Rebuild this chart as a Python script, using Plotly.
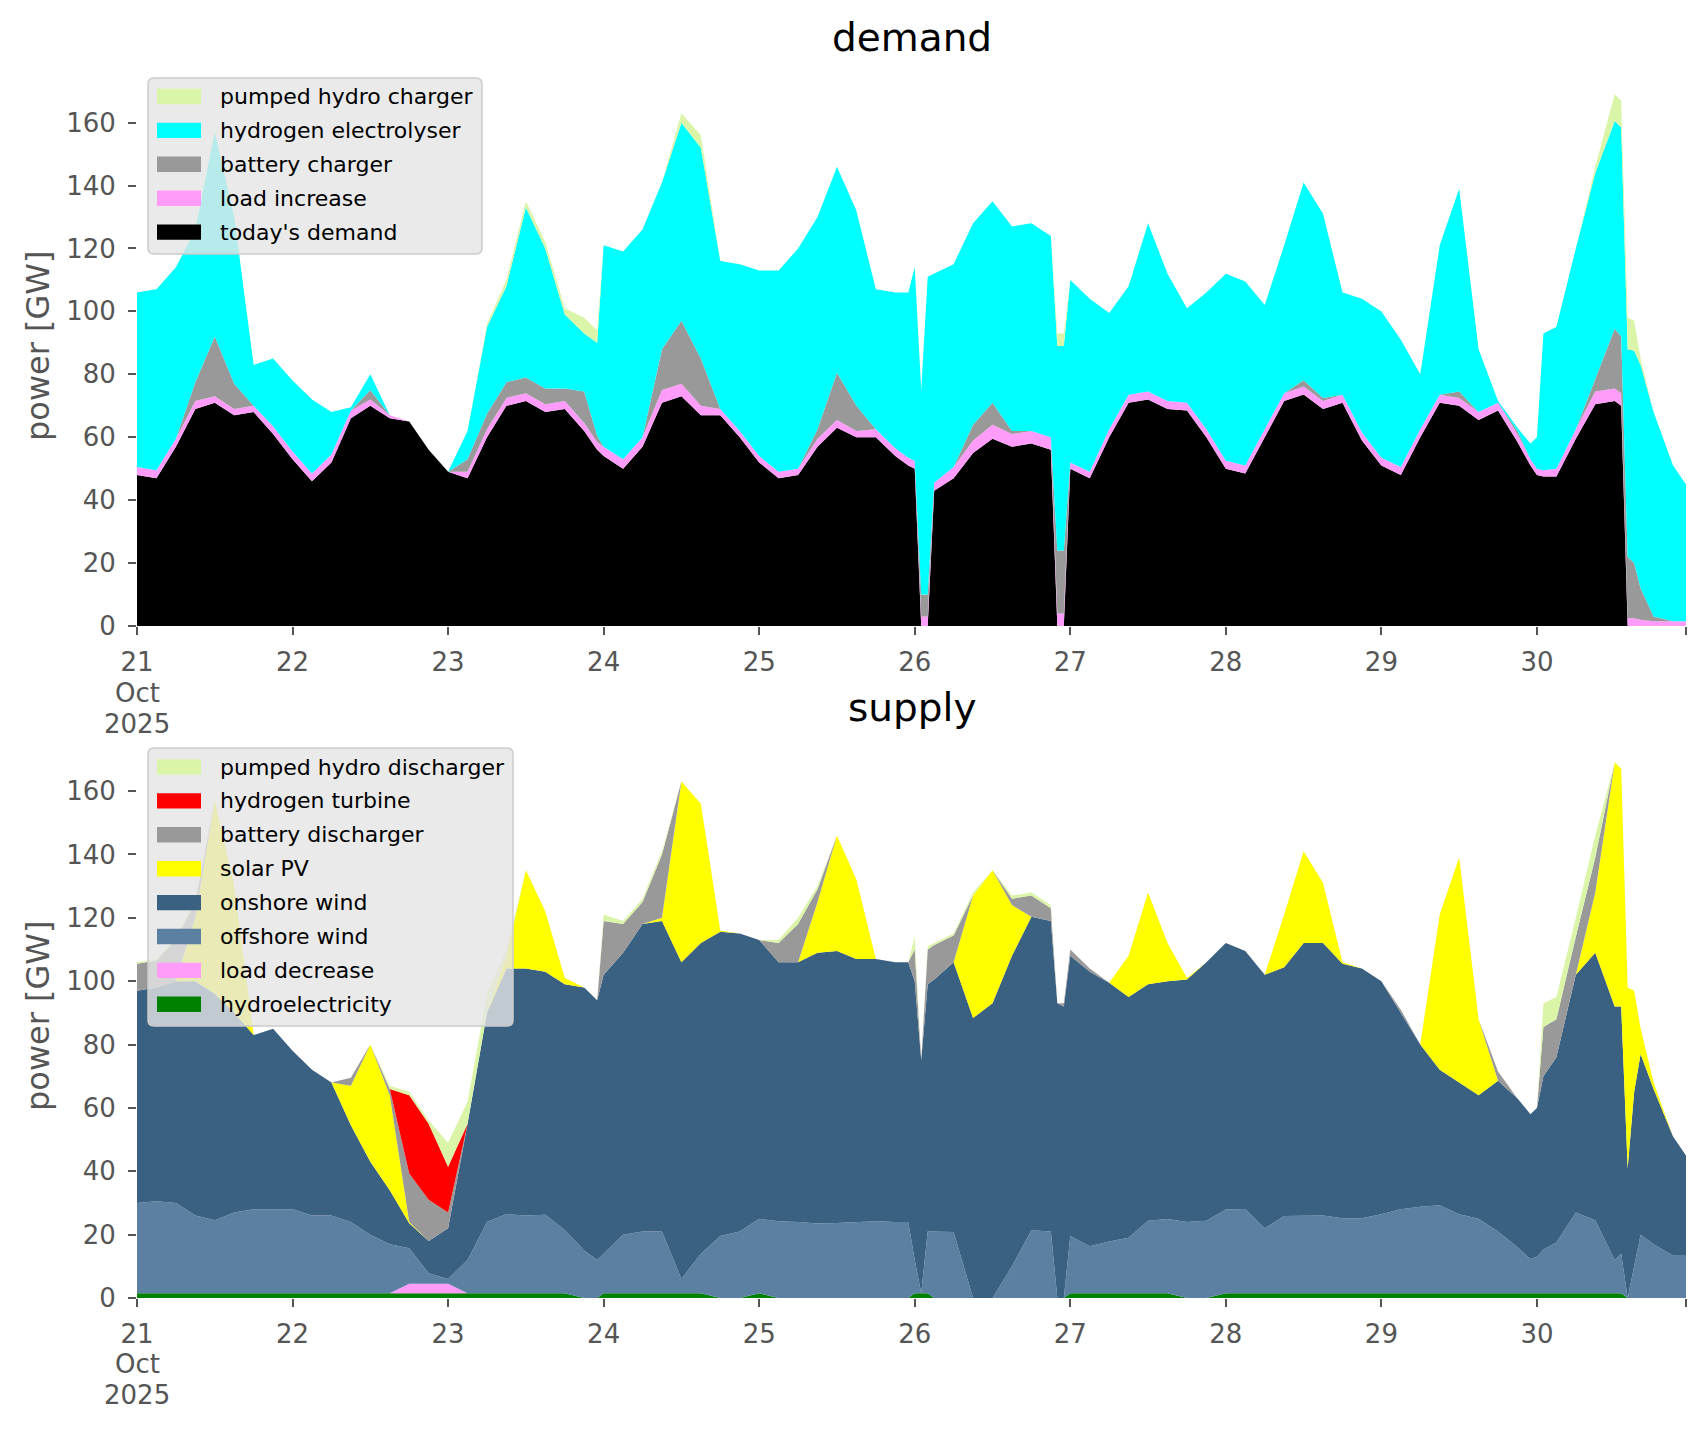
import pandas as pd
import plotly.graph_objects as go

# ---------------- time axis (hours after 21 Oct 2025 00:00) ----------------
HOURS = (
    [0, 3, 6, 9, 12, 15, 18, 21] +                              # 21 Oct
    [24, 27, 30, 33, 36, 39, 42, 45] +                          # 22 Oct
    [48, 51, 54, 57, 60, 63, 66, 69, 71] +                      # 23 Oct
    [72, 75, 78, 81, 84, 87, 90, 93] +                          # 24 Oct
    [96, 99, 102, 105, 108, 111, 114, 117, 119] +               # 25 Oct
    [120, 121, 122, 123, 126, 129, 132, 135, 138, 141, 142, 143] +  # 26 Oct
    [144, 147, 150, 153, 156, 159, 162, 165] +                  # 27 Oct
    [168, 171, 174, 177, 180, 183, 186, 189] +                  # 28 Oct
    [192, 195, 198, 201, 204, 207, 210, 213, 215] +             # 29 Oct
    [216, 217, 219, 222, 225, 228, 229, 230, 231, 232, 234, 237, 239]  # 30 Oct
)
START = pd.Timestamp("2025-10-21 00:00")
TIMES = [(START + pd.Timedelta(hours=h)).strftime("%Y-%m-%d %H:%M") for h in HOURS]

TICK_DAYS = [21, 22, 23, 24, 25, 26, 27, 28, 29, 30]
TICK_LABELS = ["21", "22", "23", "24", "25", "26", "27", "28", "29", "30", ""]
FIRST_TICK_EXTRA = ["Oct", "2025"]
Y_TICKS = [0, 20, 40, 60, 80, 100, 120, 140, 160]

# ---------------- demand (GW) ----------------
todays_demand = (
    [48, 47, 57, 69, 71, 67, 68, 61] +
    [53, 46, 52, 66, 70, 66, 65, 56] +
    [49, 47, 60, 70, 71.5, 68, 69, 62, 56] +
    [54, 50, 57, 71, 73, 67, 67, 60] +
    [52, 47, 48, 57, 63, 60, 60, 54, 51] +
    [50, 0, 0, 43, 47, 55, 59.5, 57, 58, 56, 0, 0] +
    [50, 47, 60, 71, 72, 69, 68.5, 60] +
    [50, 48.5, 60, 71.5, 73.6, 69, 71, 59] +
    [51, 48, 60, 71, 70, 65.5, 68.5, 58.5, 51] +
    [48, 47.5, 47.5, 59.5, 70.5, 71.5, 70, 0, 0, 0, 0, 0, 0]
)
load_increase = (
    [2.5, 2.5, 2.5, 2.5, 2, 2, 2, 2.5] +
    [2.5, 2.5, 2.5, 2.5, 2, 1, 0, 0] +
    [0, 2, 2.5, 2.5, 2.5, 2.5, 2.5, 2.5, 2.5] +
    [3, 3, 3, 4, 4, 3, 2, 2] +
    [2, 2, 2, 2.5, 2.5, 2, 2.5, 2.5, 2.5] +
    [2.5, 3, 3, 2.5, 3.5, 4, 4.5, 4, 4, 4, 4, 4] +
    [2, 2, 2.5, 2.5, 2.5, 2.5, 2.5, 2.5] +
    [2.5, 2.5, 2.5, 2.5, 2.5, 2.5, 2.5, 2.5] +
    [2.5, 2.5, 2.5, 2.5, 2.5, 2.5, 2.5, 2.5, 2] +
    [2, 2, 2.5, 3, 4, 4, 4, 2.5, 2.5, 2, 1.5, 1.5, 1.5]
)
battery_charger = (
    [0, 0, 0, 6, 19, 8, 0, 0] +
    [0, 0, 0, 0, 3, 0, 0, 0] +
    [0, 4, 5, 5, 5, 5, 4, 10, 2] +
    [0, 0, 0, 13, 20, 15, 0, 0] +
    [0, 0, 0, 3, 15, 8, 0, 0, 0] +
    [0, 7, 7, 0, 0, 5, 7, 1, 0, 0, 20, 20] +
    [0, 0, 0, 0, 0, 0, 0, 0] +
    [0, 0, 0, 0, 2, 1, 0, 0] +
    [0, 0, 0, 0, 2, 0, 0, 1, 0] +
    [0, 0, 0, 0, 4, 19, 18, 19.5, 17.5, 10, 1.5, 0, 0]
)
hydrogen_electrolyser = (
    [55.5, 57.5, 54.5, 48.5, 65, 53, 13, 21.5] +
    [22.5, 23.5, 13.5, 1, 5, 0, 0, 0] +
    [0, 9, 27.5, 30.5, 54, 44.5, 23.5, 18.5, 29.5] +
    [64, 66, 66, 53, 63, 67, 47, 53] +
    [59, 64, 70, 67.5, 65.5, 62, 44.5, 49.5, 52.5] +
    [61.5, 65, 101, 66.5, 64.5, 64, 64, 65, 66, 64, 65, 65] +
    [58, 55, 37, 34.5, 53.5, 40.5, 30, 43.5] +
    [59.5, 58.5, 39.5, 47, 62.9, 58.5, 32.5, 42.5] +
    [46.5, 40.5, 17.5, 47.5, 64.5, 20, 0.5, 1, 5] +
    [10, 43.5, 45, 57.5, 65.5, 66, 66.5, 66, 67.5, 71, 65, 49.5, 43.5]
)
pumped_hydro_charger = (
    [0, 0, 0, 0, 0, 0, 0, 0] +
    [0, 0, 0, 0, 0, 0, 0, 0] +
    [0, 0, 1, 2, 2, 2, 2, 5, 4] +
    [0, 0, 0, 0, 3, 4, 0, 0] +
    [0, 0, 0, 0, 0, 0, 0, 0, 0] +
    [0, 0, 0, 0, 0, 0, 0, 0, 0, 0, 4, 4] +
    [0, 0, 0, 0, 0, 0, 0, 0] +
    [0, 0, 0, 0, 0, 0, 0, 0] +
    [0, 0, 0, 0, 0, 0, 0, 0, 0] +
    [0, 0, 0, 0, 2, 8.5, 8.5, 10, 9.5, 2, 0, 0, 0]
)

# ---------------- supply (GW) ----------------
hydroelectricity = (
    [1.5] * 8 +
    [1.5] * 8 +
    [1.5, 1.5, 1.5, 1.5, 1.5, 1.5, 1.5, 0, 0] +
    [1.5, 1.5, 1.5, 1.5, 1.5, 1.5, 0, 0] +
    [1.5, 0, 0, 0, 0, 0, 0, 0, 0] +
    [1.5, 1.5, 1.5, 0, 0, 0, 0, 0, 0, 0, 0, 0] +
    [1.5, 1.5, 1.5, 1.5, 1.5, 1.5, 0, 0] +
    [1.5] * 8 +
    [1.5] * 9 +
    [1.5, 1.5, 1.5, 1.5, 1.5, 1.5, 1.5, 0, 0, 0, 0, 0, 0]
)
load_decrease = (
    [0] * 8 +
    [0, 0, 0, 0, 0, 0, 3, 3] +
    [3, 0, 0, 0, 0, 0, 0, 0, 0] +
    [0] * 8 + [0] * 9 + [0] * 12 + [0] * 8 + [0] * 8 + [0] * 9 + [0] * 13
)
offshore_wind = (
    [28.5, 29, 28.5, 24.5, 23, 25.5, 26.5, 26.5] +
    [26.5, 24.5, 24.5, 22.5, 18.5, 15.5, 11.2, 3.3] +
    [1.5, 10.5, 22.5, 25, 24.5, 24.8, 20, 15, 12] +
    [12.5, 18.5, 19.5, 19.5, 4.5, 12.5, 19.6, 21] +
    [23.5, 24.2, 24, 23.5, 23.7, 24, 24.2, 24, 24] +
    [10.5, 0, 19.5, 21, 20.8, 0, 0, 10, 21.4, 21, 0, 0] +
    [18.1, 14.8, 16.3, 17.5, 22.9, 23.4, 24, 24.4] +
    [26.4, 26.6, 20.5, 24.4, 24.5, 24.5, 23.7, 23.7] +
    [24.9, 26.5, 27.3, 27.8, 24.9, 23.5, 19.5, 14.5, 10.8] +
    [11.5, 13.8, 16, 25.5, 23, 10.5, 12.5, 0, 10, 20, 17, 13.3, 13.3]
)
onshore_wind = (
    [67, 67.5, 70, 74, 71.5, 63, 55, 57] +
    [50, 46, 42, 30.5, 23, 17, 7.9, 10.2] +
    [16, 43, 66, 77.5, 78, 76.7, 77.5, 83, 82] +
    [88, 89, 97, 98, 100, 98, 96, 94] +
    [88, 81.8, 82, 85.5, 85.8, 83, 82.8, 82, 82] +
    [88, 73.5, 78, 79.5, 85.2, 88.4, 93, 98, 98.9, 98, 93, 92] +
    [88.4, 86.7, 81.7, 76, 74.6, 75.1, 76.5, 81.6] +
    [84.1, 81.4, 80, 78.5, 86, 86, 80.3, 78.8] +
    [73.6, 62, 51.2, 42.7, 41.6, 39, 47.6, 47, 45.7] +
    [47, 54.7, 58.5, 75, 84.5, 80, 78, 41, 55, 57, 49, 37.7, 31.7]
)
solar_pv = (
    [0, 0, 0, 20, 61, 40, 0, 0] +
    [0, 0, 0, 12.5, 37, 30, 0.4, 0] +
    [0, 0, 0, 4, 31, 19, 2, 0, 0] +
    [0, 0, 0, 1, 57, 44, 0.4, 0] +
    [0, 0, 0, 16, 36.5, 25, 0, 0, 0] +
    [0, 0, 0, 0, 0, 38.6, 42, 16, 0, 0, 0, 0] +
    [0, 0, 0, 13, 29, 12, 0.5, 0] +
    [0, 0, 0, 16.6, 29, 19, 0.5, 0] +
    [0, 0, 0, 49, 71, 24, 0, 0, 0] +
    [0, 0, 0, 0, 19, 77, 75, 57, 32, 8, 2, 0, 0]
)
battery_discharger = (
    [8.5, 8.5, 13, 5, 0, 0, 0, 0] +
    [0, 0, 0, 2.5, 0, 2, 15.3, 13] +
    [5, 0, 0, 0, 0, 0, 0, 0, 0] +
    [17, 9, 7, 20, 0, 0, 0, 0] +
    [0, 6, 12, 4, 0, 0, 0, 0, 0] +
    [10, 0, 11, 10.9, 8.4, 0, 0, 2, 6.7, 4, 0, 1] +
    [2, 1, 0, 0, 0, 0, 0, 0] +
    [0, 0, 0, 0, 0, 0, 0, 0] +
    [0, 1, 0, 0, 0, 0, 2.9, 0, 0] +
    [0, 15.5, 12, 12, 11, 0, 0, 0, 0, 0, 0, 0, 0]
)
hydrogen_turbine = (
    [0] * 8 +
    [0, 0, 0, 0, 0, 0, 24.7, 24] +
    [14.4, 0, 0, 0, 0, 0, 0, 0, 0] +
    [0] * 8 + [0] * 9 + [0] * 12 + [0] * 8 + [0] * 8 + [0] * 9 + [0] * 13
)
pumped_hydro_discharger = (
    [0.5, 0.5, 1, 1, 0, 0, 0, 0] +
    [0, 0, 0, 0, 0, 1, 1, 1] +
    [7.6, 7, 6, 2, 0, 0, 0, 0, 0] +
    [2, 1, 1, 1, 0, 0, 0, 0] +
    [0, 1, 2, 1, 0, 0, 0, 0, 0] +
    [4, 0, 1, 0.6, 0.6, 1, 0, 1, 1, 1, 0, 0] +
    [0] * 8 + [0] * 8 + [0] * 9 +
    [0, 7.5, 7, 6, 7, 0, 0, 0, 0, 0, 0, 0, 0]
)

# ---------------- figure ----------------
FONT = "DejaVu Sans"
GREY = "#555555"
W, H = 1706, 1431

fig = go.Figure()


def area(name, values, color, xa, ya, group):
    fig.add_trace(go.Scatter(
        x=TIMES, y=values, name=name, mode="lines",
        line=dict(width=0, color=color, shape="linear"),
        fillcolor=color, stackgroup=group,
        xaxis=xa, yaxis=ya, hoverinfo="skip", showlegend=False,
    ))


demand_series = [
    ("today's demand", todays_demand, "#000000"),
    ("load increase", load_increase, "#FF9CFA"),
    ("battery charger", battery_charger, "#999999"),
    ("hydrogen electrolyser", hydrogen_electrolyser, "#00FFFF"),
    ("pumped hydro charger", pumped_hydro_charger, "#DAF5A8"),
]
supply_series = [
    ("hydroelectricity", hydroelectricity, "#008000"),
    ("load decrease", load_decrease, "#FF9CFA"),
    ("offshore wind", offshore_wind, "#5B80A2"),
    ("onshore wind", onshore_wind, "#3B6182"),
    ("solar PV", solar_pv, "#FFFF00"),
    ("battery discharger", battery_discharger, "#999999"),
    ("hydrogen turbine", hydrogen_turbine, "#FF0000"),
    ("pumped hydro discharger", pumped_hydro_discharger, "#DAF5A8"),
]
for name, vals, col in demand_series:
    area(name, vals, col, "x", "y", "demand")
for name, vals, col in supply_series:
    area(name, vals, col, "x2", "y2", "supply")

tick_vals = [(START + pd.Timedelta(days=d - 21)).strftime("%Y-%m-%d %H:%M") for d in TICK_DAYS] + [TIMES[-1]]

X_DOM = [137 / W, 1686 / W]
common_x = dict(
    type="date", range=[TIMES[0], TIMES[-1]], domain=X_DOM,
    tickmode="array", tickvals=tick_vals, ticktext=TICK_LABELS,
    showgrid=False, zeroline=False, showline=False,
    ticks="outside", ticklen=8, tickwidth=1.6, tickcolor=GREY, ticklabelstandoff=5,
    tickfont=dict(family=FONT, size=26, color=GREY), automargin=False,
)
common_y = dict(
    range=[0, 178], tickmode="array", tickvals=Y_TICKS,
    showgrid=False, zeroline=False, showline=False,
    ticks="outside", ticklen=8, tickwidth=1.6, tickcolor=GREY, ticklabelstandoff=7,
    tickfont=dict(family=FONT, size=26, color=GREY), automargin=False,
)

fig.update_layout(
    width=W, height=H, template="none",
    margin=dict(l=0, r=0, t=0, b=0),
    paper_bgcolor="white", plot_bgcolor="white",
    font=dict(family=FONT),
    xaxis=dict(common_x, anchor="y"),
    yaxis=dict(common_y, domain=[1 - 626 / H, 1 - 66 / H], anchor="x"),
    xaxis2=dict(common_x, anchor="y2"),
    yaxis2=dict(common_y, domain=[1 - 1298 / H, 1 - 734 / H], anchor="x2"),
    showlegend=False,
)


def px(x, y):
    return f"{x / W:.6f},{1 - y / H:.6f}"


def rounded_box(x0, y0, x1, y1, r=6):
    return (f"M{px(x0 + r, y0)} L{px(x1 - r, y0)} Q{px(x1, y0)} {px(x1, y0 + r)} "
            f"L{px(x1, y1 - r)} Q{px(x1, y1)} {px(x1 - r, y1)} "
            f"L{px(x0 + r, y1)} Q{px(x0, y1)} {px(x0, y1 - r)} "
            f"L{px(x0, y0 + r)} Q{px(x0, y0)} {px(x0 + r, y0)} Z")


shapes = []
annotations = []


def add_legend(items, box, first_center, step=33.9):
    x0, y0, x1, y1 = box
    shapes.append(dict(type="path", path=rounded_box(x0, y0, x1, y1), xref="paper", yref="paper",
                       fillcolor="rgba(229,229,229,0.8)", line=dict(color="#CCCCCC", width=1.5),
                       layer="above"))
    for i, (name, _, color) in enumerate(items):
        cy = first_center + step * i
        shapes.append(dict(type="rect", xref="paper", yref="paper",
                           x0=157 / W, x1=201 / W, y0=1 - (cy - 7.7) / H, y1=1 - (cy + 7.7) / H,
                           fillcolor=color, line=dict(width=0), layer="above"))
        annotations.append(dict(text=name, x=218 / W, y=1 - cy / H, xref="paper", yref="paper",
                                showarrow=False, xanchor="left", yanchor="middle",
                                font=dict(family=FONT, size=22, color="#000000")))


add_legend(list(reversed(demand_series)), (148, 78, 482, 254), 96.5)
add_legend(list(reversed(supply_series)), (148, 748, 513, 1026), 767)

mid_x = (X_DOM[0] + X_DOM[1]) / 2
annotations += [
    dict(text="demand", x=mid_x, y=1 - 38 / H, xref="paper", yref="paper",
         showarrow=False, font=dict(family=FONT, size=39, color="#000000"), xanchor="center", yanchor="middle"),
    dict(text="supply", x=mid_x, y=1 - 707 / H, xref="paper", yref="paper",
         showarrow=False, font=dict(family=FONT, size=39, color="#000000"), xanchor="center", yanchor="middle"),
    dict(text="power [GW]", x=38 / W, y=1 - 346 / H, xref="paper", yref="paper", textangle=-90,
         showarrow=False, font=dict(family=FONT, size=32, color=GREY), xanchor="center", yanchor="middle"),
    dict(text="power [GW]", x=38 / W, y=1 - 1016 / H, xref="paper", yref="paper", textangle=-90,
         showarrow=False, font=dict(family=FONT, size=32, color=GREY), xanchor="center", yanchor="middle"),
]
# second and third line of the first date tick ("Oct" / "2025") under both panels
for (y_oct, y_year) in [(693, 724), (1364, 1395)]:
    for txt, yy in zip(FIRST_TICK_EXTRA, (y_oct, y_year)):
        annotations.append(dict(text=txt, x=TIMES[0], y=1 - yy / H, xref="x", yref="paper",
                                showarrow=False, xanchor="center", yanchor="middle",
                                font=dict(family=FONT, size=26, color=GREY)))

fig.update_layout(shapes=shapes, annotations=annotations)

fig.write_html(
    "out.html",
    config={"displayModeBar": False},
    post_script="document.body.style.margin='0';document.body.style.overflow='hidden';",
)
